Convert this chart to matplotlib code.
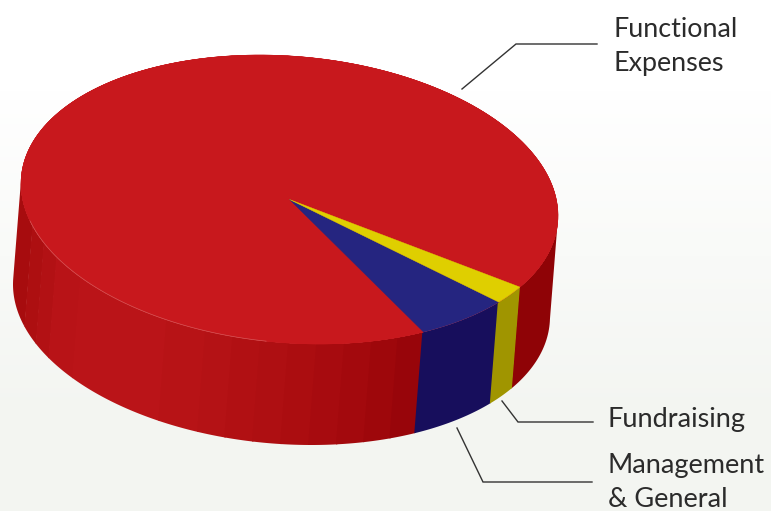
import numpy as np
import matplotlib
matplotlib.use('Agg')
import matplotlib.pyplot as plt
from matplotlib.patches import Polygon

plt.rcParams['font.family'] = ['Lato', 'DejaVu Sans']

# share of total expenses, in percent
categorias = ['Functional\nExpenses', 'Management\n& General', 'Fundraising']
valores = [91.9, 5.9, 2.2]

cor_topo = ['#C8181D', '#252580', '#DFCF00']
cor_lado = ['#8F0306', '#170E5C', '#A09500']

# facets on the red wall, lighter towards the left of the disc
faixas_t = [60, 66, 72, 78, 84, 90, 96, 102, 108, 117, 141, 150, 156, 163, 182.4]
faixas_cor = ['#98050A', '#9E070B', '#A3090D', '#A70B0F', '#AB0D10', '#AE0F12', '#B11013',
              '#B41215', '#B71316', '#BA1418', '#B81317', '#B21114', '#AD0F11', '#A70C0E']

# disc geometry, in pixels
cx, cy = 289.5, 199.5
rx, ry = 268.5, 144.5
fase = np.radians(6.4)
dx, dy = -8, 101
inicio = 30.9

def ponto(t):
    # point on the rim of the top face for angle t (degrees, clockwise on screen)
    t = np.radians(t)
    return cx + rx*np.cos(t), cy + ry*np.sin(t + fase)

def tira_lateral(ax, t0, t1, cor):
    # strips overlap a little so no seam shows between them
    t = np.linspace(t0, t1 + 0.3, 30)
    x, y = ponto(t)
    xy = np.r_[np.c_[x, y], np.c_[x[::-1] + dx, y[::-1] + dy]]
    ax.add_patch(Polygon(xy, closed=True, fc=cor, ec='none', zorder=2))

fig = plt.figure(figsize=(7.71, 5.11), dpi=100)
ax = fig.add_axes([0, 0, 1, 1])
ax.set_xlim(0, 771)
ax.set_ylim(511, 0)
ax.axis('off')

# background fades from white to a pale grey-green
grad = np.ones((511, 1, 3))
frac = np.clip((np.arange(511) - 90) / 330, 0, 1)[:, None]
grad[:, :, 0] = 1 - frac*(1 - 243/255)
grad[:, :, 1] = 1 - frac*(1 - 245/255)
grad[:, :, 2] = 1 - frac*(1 - 241/255)
ax.imshow(grad, extent=[0, 771, 511, 0], aspect='auto', zorder=0)

angulos = np.cumsum(np.array(valores)) / sum(valores) * 360
# slices run counter-clockwise on screen from the start angle, red first
limites = [inicio + 360, inicio + 360 - angulos[0], inicio + 360 - angulos[1], inicio]
limites = [l - 360 if i > 0 else l for i, l in enumerate(limites)]

# walls of the red slice: right-hand piece, then the facets
for i in range(len(faixas_cor) - 1, -1, -1):
    tira_lateral(ax, faixas_t[i], faixas_t[i+1], faixas_cor[i])
tira_lateral(ax, inicio - 30, inicio, cor_lado[0])
# walls of the other two slices
tira_lateral(ax, limites[2], limites[1], cor_lado[1])
tira_lateral(ax, limites[3], limites[2], cor_lado[2])

# top face
for i in range(3):
    if i == 0:
        t = np.linspace(limites[1], limites[0], 400)
    elif i == 1:
        t = np.linspace(limites[2], limites[1], 40)
    else:
        t = np.linspace(limites[3], limites[2], 20)
    x, y = ponto(t)
    xy = np.r_[[[cx, cy]], np.c_[x, y]]
    ax.add_patch(Polygon(xy, closed=True, fc=cor_topo[i], ec=cor_topo[i], lw=0.3, zorder=3))

# thin highlight along the front rim
x, y = ponto(np.linspace(95, 165, 100))
ax.plot(x, y, color='#E08080', lw=0.5, alpha=0.6, zorder=4)

# leader lines
linhas = [([462, 516, 597], [89, 44, 44]),
          ([502, 518, 593], [401, 422, 422]),
          ([457, 483, 592], [428, 482, 482])]
for xs, ys in linhas:
    ax.plot(xs, ys, color='#333333', lw=1.0, zorder=5, solid_joinstyle='miter')

ax.text(614, 46.5, categorias[0], fontsize=19.4, color='#2B2B2B', va='center', ha='left', linespacing=1.42)
ax.text(607.5, 419, categorias[2], fontsize=19.5, color='#2B2B2B', va='center', ha='left')
ax.text(607.5, 482.5, categorias[1], fontsize=19.5, color='#2B2B2B', va='center', ha='left', linespacing=1.42)

fig.savefig('out.png', dpi=100)
